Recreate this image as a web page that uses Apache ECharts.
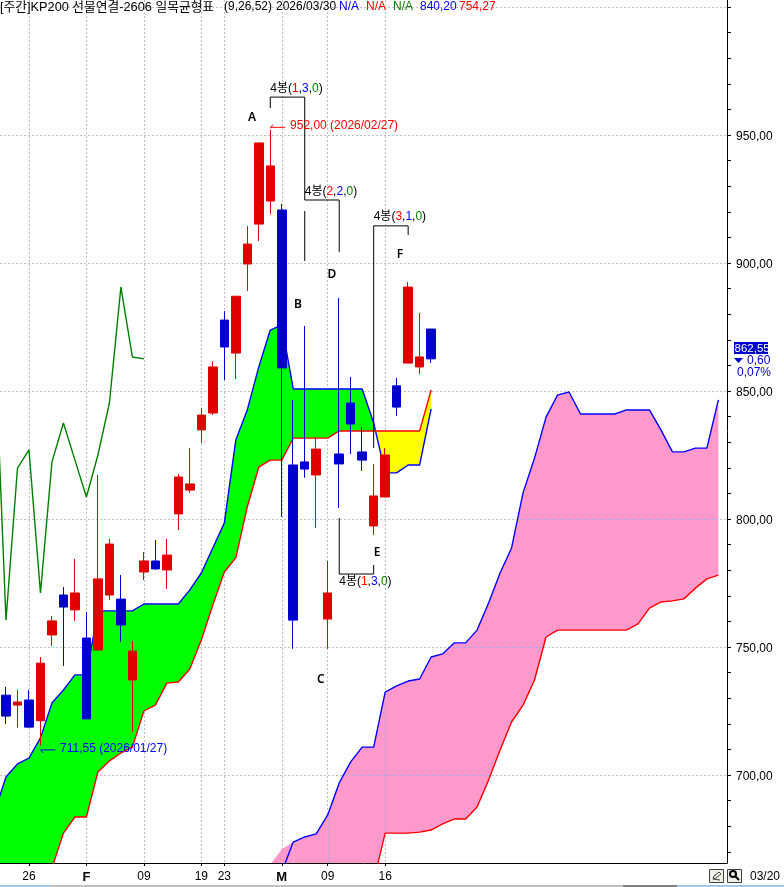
<!DOCTYPE html>
<html>
<head>
<meta charset="utf-8">
<title>KP200</title>
<style>
  html, body { margin: 0; padding: 0; background: #fff; }
  #chart { width: 784px; height: 887px; }
</style>
<script src="https://cdn.jsdelivr.net/npm/echarts@6/dist/echarts.min.js"></script>
</head>
<body>
<div id="chart"></div>
<script>
// weekly candles, index 0 = first bar on the left
const candleOpen  = [731.2,727.3,729.3,721.2,754.7,770.3,764.5,753.5,748.8,770.3,768.7,737.1,779.3,783.6,780.1,802.0,811.3,834.8,841.4,877.7,864.8,899.6,915.2,924.2,920.7,821.1,822.3,817.2,760.9,825.4,845.3,826.2,797.3,808.6,852.0,860.9,859.4,874.2]
const candleClose = [723.0,728.5,718.7,743.7,760.2,765.6,771.1,721.9,776.6,790.2,758.6,748.4,783.6,780.5,785.9,816.4,813.7,840.6,859.4,867.2,887.0,907.4,946.9,937.9,859.0,760.5,819.5,827.3,771.1,821.5,837.1,823.0,809.0,825.0,843.7,890.6,863.3,862.55]
const candleLow   = [719.9,718.5,718.7,711.55,750.4,742.6,760.2,721.9,748.8,768.4,752.0,716.8,776.2,780.1,772.7,795.7,810.2,829.7,840.6,854.3,854.7,889.1,908.6,919.1,800.8,749.3,816.1,796.5,749.3,804.3,825.4,818.8,793.8,808.6,840.2,860.9,856.6,860.9]
const candleHigh  = [734.4,733.2,733.2,746.1,762.1,773.4,784.4,763.7,817.2,792.2,778.1,752.3,787.1,791.8,792.2,817.6,827.7,843.4,861.7,881.2,887.2,914.5,946.9,952.0,923.0,846.5,875.4,832.0,783.6,886.3,855.5,835.9,821.5,827.7,855.1,892.6,880.5,874.2]

// chikou line, starts one slot left of the first candle
const laggingStart = -1
const lagging = [871.9,760.5,819.9,827.0,771.1,822.3,837.5,823.0,808.6,825.0,845.3,890.6,863.3,862.55]

// near cloud, starts one slot left of the first candle
const nearStart = -1
const nearSpanA = [685.5,699.2,704.3,706.6,714.5,728.1,733.2,739.1,739.1,764.1,764.1,764.1,764.1,766.8,766.8,766.8,766.8,772.3,778.9,788.7,798.4,830.9,842.6,859.4,873.8,875.8,850.8,850.8,850.8,850.8,850.8,850.8,850.8,837.5,818.0,818.0,821.1,821.1,843.0]
const nearSpanB = [621.9,627.7,633.6,641.4,649.2,663.7,677.3,683.6,683.6,701.2,705.5,708.6,710.9,725.0,727.3,735.9,736.3,741.4,752.7,766.4,779.3,784.8,804.7,820.3,823.0,823.0,831.6,831.6,831.6,831.6,834.4,834.4,834.4,834.4,834.4,834.4,834.4,834.4,850.4]

// far cloud
const farStart = 25
const farSpanA = [673.8,675.8,677.0,684.4,696.9,705.1,710.9,710.9,732.4,734.8,736.7,737.5,746.1,747.3,751.6,751.6,756.6,767.2,778.9,788.7,810.2,823.8,839.8,848.4,849.6,841.0,841.0,841.0,841.0,842.6,842.6,842.6,834.8,826.2,826.2,827.7,827.7,846.5]
const farSpanB = [655.0,655.0,655.0,655.0,655.0,655.0,655.0,658.6,677.3,677.3,677.3,677.7,678.5,680.9,682.8,682.8,687.5,698.0,709.8,720.7,727.3,737.1,753.9,756.6,756.6,756.6,756.6,756.6,756.6,756.6,759.0,765.2,767.6,768.0,768.8,773.0,776.6,778.1]
// blue line comes up from below the chart one slot earlier
const farLeadIn = 662.1
// pale wedge left of the far cloud's blue line
const farTailStart = 23
const farTailTop = [665.0,671.0,673.8]
const farTailBottom = [655.0,655.0,655.0]

const xTickIndex = [2,7,12,17,19,24,28,33]
const xTickLabels = ['26','F','09','19','23','M','09','16']
const yLabelValues = [700,750,800,850,900,950]
const yGridValues = [700,750,800,850,900,950,1000]
const yTickValues = [670,680,690,700,710,720,730,740,750,760,770,780,790,800,810,820,830,840,850,860,870,880,890,900,910,920,930,940,950,960,970,980,990,1000]

const bracketLines = [
  [[23,960.5],[23,964.8],[26,964.8],[26,924.6]],
  [[26,920.3],[26,900.8]],
  [[26,924.6],[29,924.6],[29,904.3]],
  [[32,827.7],[32,914.5],[35,914.5],[35,910.9]],
  [[29,800.4],[29,778.5],[32,778.5],[32,782.0]],
]
const bracketNotes = [
  [23,968.4,'4봉({r|1},{b|3},{g|0})'],
  [26,928.1,'4봉({r|2},{b|2},{g|0})'],
  [32,918.4,'4봉({r|3},{b|1},{g|0})'],
  [29,775.8,'4봉({r|1},{b|3},{g|0})'],
]
const waveLetters = [
  [21.41,957.0,'A'],[25.41,884.0,'B'],[27.41,737.5,'C'],
  [28.37,895.7,'D'],[32.29,787.1,'E'],[34.29,903.5,'F'],
]
const highNote = [24.72,953.9,'952,00 (2026/02/27)']
const lowNote = [4.7,710.5,'711,55 (2026/01/27)']
const highArrow = [[23.25,954.0],[23,953.0],[24.3,953.0]]
const lowArrow = [[3.25,708.6],[3,709.8],[4.3,709.8]]

const headerTitle = '[주간]KP200 선물연결-2606 일목균형표'
const headerTexts = [
  [224,'(9,26,52)','#000'],
  [276,'2026/03/30','#000'],
  [339,'N/A','#0000ff'],
  [366,'N/A','#ff0000'],
  [393,'N/A','#008000'],
  [420,'840,20','#0000ff'],
  [459,'754,27','#ff0000'],
]

const FONT = '12px "Liberation Sans", "Noto Sans CJK KR", sans-serif'
const RED = '#e00000', BLUE = '#0000cc'
const PINK = '#ff99cc'

const chart = echarts.init(document.getElementById('chart'), null, { renderer: 'canvas' })

// split the band between two lines into polygons, one per stretch of same sign
const bandPolygons = (start, upper, lower, colorUp, colorDown) => {
  const polys = []
  let cur = null
  const push = (i, a, b, color) => {
    if (!cur || cur.color !== color) {
      cur = { color, top: [], bottom: [] }
      polys.push(cur)
    }
    cur.top.push([i, a])
    cur.bottom.push([i, b])
  }
  upper.forEach((a, k) => {
    const b = lower[k]
    const i = start + k
    const color = a >= b ? colorUp : colorDown
    if (cur && cur.color !== color) {
      const pa = upper[k - 1], pb = lower[k - 1]
      const t = (pb - pa) / (a - pa - b + pb)
      const cx = i - 1 + t
      const cy = pa + (a - pa) * t
      push(cx, cy, cy, cur.color)
      push(cx, cy, cy, color)
    }
    push(i, a, b, color)
  })
  return polys.map((p) => ({ color: p.color, pts: p.top.concat(p.bottom.slice().reverse()) }))
}

const farPoly = bandPolygons(farStart, farSpanA, farSpanB, PINK, PINK)[0]
const cloudPolys = [
  ...bandPolygons(nearStart, nearSpanA, nearSpanB, '#00ff00', '#ffff00'),
  farPoly,
  ...bandPolygons(farTailStart, farTailTop, farTailBottom, PINK, PINK),
]

const toLine = (start, arr) => arr.map((v, k) => [start + k, v])

const lineSeries = (name, data, color) => ({
  type: 'line', name, data, symbol: 'none', z: 3, silent: true,
  lineStyle: { color, width: 1.4 }, emphasis: { disabled: true },
})

const customLines = (segments, color, z) => ({
  type: 'custom', coordinateSystem: 'cartesian2d', silent: true, z, clip: true,
  data: segments.map((_, k) => [k]),
  encode: { x: -1, y: -1 },
  renderItem: (params, api) => ({
    type: 'polyline',
    shape: { points: segments[params.dataIndex].map((p) => api.coord(p)) },
    style: { stroke: color, lineWidth: 1, fill: null },
  }),
})

const customTexts = (items, style, z) => ({
  type: 'custom', coordinateSystem: 'cartesian2d', silent: true, z,
  data: items.map((_, k) => [k]),
  encode: { x: -1, y: -1 },
  renderItem: (params, api) => {
    const it = items[params.dataIndex]
    const p = api.coord([it[0], it[1]])
    return { type: 'text', x: p[0], y: p[1] + 1, style: { text: it[2], verticalAlign: 'middle', ...style } }
  },
})

const option = {
  animation: false,
  backgroundColor: '#fff',
  grid: { left: 0, right: 57, top: 0, bottom: 24 },
  xAxis: {
    type: 'value', min: -0.522, max: 62.75,
    axisLine: { onZero: false, lineStyle: { color: '#000', width: 1 } },
    axisTick: { customValues: xTickIndex, length: 3, lineStyle: { color: '#000' } },
    splitLine: { show: true, lineStyle: { color: '#c0c0c0', type: [2, 2] } },
    axisLabel: {
      customValues: xTickIndex, margin: 8, color: '#000', font: FONT,
      formatter: (v) => {
        const s = xTickLabels[xTickIndex.indexOf(v)]
        return s === 'F' || s === 'M' ? '{bold|' + s + '}' : s
      },
      rich: { bold: { fontWeight: 'bold', fontSize: 13, fontFamily: 'Liberation Sans', color: '#000' } },
    },
  },
  yAxis: [
    {
      type: 'value', position: 'right', min: 665.625, max: 1002.73,
      axisLine: { show: true, onZero: false, lineStyle: { color: '#000', width: 1 } },
      axisTick: { show: true, customValues: yTickValues, length: 4, lineStyle: { color: '#000' } },
      splitLine: { show: false },
      axisLabel: {
        customValues: yLabelValues, margin: 9, color: '#000',
        formatter: (v) => '{v|' + v.toFixed(2).replace('.', ',') + '}',
        rich: { v: { fontSize: 12, fontFamily: 'Liberation Sans', color: '#000', padding: [4, 0, 0, 0] } },
      },
    },
    {
      type: 'value', position: 'right', min: 665.625, max: 1002.73,
      axisLine: { show: false },
      axisTick: { show: false, customValues: yGridValues },
      axisLabel: { show: false },
      splitLine: { show: true, lineStyle: { color: '#c0c0c0', type: [2, 2] } },
    },
  ],
  series: [
    {
      type: 'custom', name: 'cloud', coordinateSystem: 'cartesian2d', silent: true, z: 1, clip: true,
      data: cloudPolys.map((_, k) => [k]),
      encode: { x: -1, y: -1 },
      renderItem: (params, api) => {
        const p = cloudPolys[params.dataIndex]
        return {
          type: 'polygon',
          shape: { points: p.pts.map((pt) => api.coord(pt)) },
          style: { fill: p.color },
        }
      },
    },
    {
      // grid shows through the pink cloud as pale blue dashes
      type: 'custom', name: 'farGrid', coordinateSystem: 'cartesian2d', silent: true, z: 2, clip: true,
      data: [[0]],
      encode: { x: -1, y: -1 },
      renderItem: (params, api) => {
        const dash = { stroke: '#a8a8e8', lineWidth: 1, lineDash: [2, 2] }
        const hLines = yGridValues.map((v) => {
          const a = api.coord([-0.522, v]), b = api.coord([62.75, v])
          return { type: 'line', shape: { x1: a[0], y1: Math.round(a[1]) + 0.5, x2: b[0], y2: Math.round(b[1]) + 0.5 }, style: dash }
        })
        const vLines = xTickIndex.map((i) => {
          const a = api.coord([i, 665.625]), b = api.coord([i, 1002.73])
          return { type: 'line', shape: { x1: Math.round(a[0]) + 0.5, y1: a[1], x2: Math.round(b[0]) + 0.5, y2: b[1] }, style: dash }
        })
        return {
          type: 'group',
          clipPath: { type: 'polygon', shape: { points: farPoly.pts.map((pt) => api.coord(pt)) } },
          children: hLines.concat(vLines),
        }
      },
    },
    lineSeries('nearA', toLine(nearStart, nearSpanA), '#0000ff'),
    lineSeries('nearB', toLine(nearStart, nearSpanB), '#ff0000'),
    lineSeries('farA', toLine(farStart - 1, [farLeadIn, ...farSpanA]), '#0000ff'),
    lineSeries('farB', toLine(farStart, farSpanB).slice(7), '#ff0000'),
    lineSeries('lagging', toLine(laggingStart, lagging), '#008000'),
    {
      type: 'candlestick', name: 'candles', z: 5, silent: true, barWidth: 9,
      data: candleOpen.map((o, i) => [i, o, candleClose[i], candleLow[i], candleHigh[i]]),
      encode: { x: 0, y: [1, 2, 3, 4] },
      itemStyle: { color: RED, color0: BLUE, borderColor: RED, borderColor0: BLUE, borderWidth: 1 },
    },
    customLines(bracketLines, '#000', 6),
    customLines([highArrow], '#ff0000', 6),
    customLines([lowArrow], '#0000ff', 6),
    customTexts(bracketNotes, {
      font: FONT, fill: '#000',
      rich: { r: { fill: '#ff0000', font: FONT }, b: { fill: '#0000ff', font: FONT }, g: { fill: '#008000', font: FONT } },
    }, 7),
    customTexts(waveLetters, { font: '600 12px "Noto Sans", sans-serif', fill: '#000', align: 'center' }, 7),
    customTexts([highNote], { font: FONT, fill: '#ff0000' }, 7),
    customTexts([lowNote], { font: FONT, fill: '#0000ff' }, 7),
  ],
  graphic: [
    {
      type: 'text', x: 0, y: 7, z: 20,
      style: { text: headerTitle, fill: '#000', font: '12.75px "Liberation Sans", "Noto Sans CJK KR", sans-serif', verticalAlign: 'middle' },
    },
    ...headerTexts.map(([x, text, fill]) => ({
      type: 'text', x, y: 7, z: 20,
      style: { text, fill, font: FONT, verticalAlign: 'middle' },
    })),
    // last price box on the right
    { type: 'rect', shape: { x: 734, y: 342, width: 34, height: 12 }, style: { fill: BLUE } },
    { type: 'text', x: 734.5, y: 349, style: { text: '862,55', fill: '#fff', font: '11.5px "Liberation Sans", sans-serif', verticalAlign: 'middle' } },
    { type: 'polygon', shape: { points: [[734, 358], [743, 358], [738.5, 363]] }, style: { fill: BLUE } },
    { type: 'text', x: 747, y: 361, style: { text: '0,60', fill: BLUE, font: FONT, verticalAlign: 'middle' } },
    { type: 'text', x: 737, y: 373, style: { text: '0,07%', fill: BLUE, font: FONT, verticalAlign: 'middle' } },
    // toolbar bits bottom right
    { type: 'rect', shape: { x: 709.5, y: 869.5, width: 14, height: 13 }, style: { fill: '#f0f0e8', stroke: '#404040', lineWidth: 1 } },
    { type: 'polyline', shape: { points: [[713, 879], [714, 876], [719, 872], [721, 874], [716, 878], [713, 879], [720, 880]] }, style: { fill: null, stroke: '#404040', lineWidth: 1 } },
    { type: 'rect', shape: { x: 727.5, y: 869.5, width: 14, height: 13 }, style: { fill: '#f0f0e8', stroke: '#404040', lineWidth: 1 } },
    { type: 'circle', shape: { cx: 733, cy: 874, r: 3 }, style: { fill: '#f0f0e8', stroke: '#000', lineWidth: 2 } },
    { type: 'line', shape: { x1: 735, y1: 876, x2: 739, y2: 880 }, style: { stroke: '#000', lineWidth: 2 } },
    { type: 'text', x: 750, y: 877, style: { text: '03/20', fill: '#000', font: FONT, verticalAlign: 'middle' } },
    // scrollbar strip along the bottom edge
    { type: 'rect', shape: { x: 0, y: 885, width: 784, height: 2 }, style: { fill: '#a6c8e8' } },
    { type: 'rect', shape: { x: 50, y: 885, width: 573, height: 2 }, style: { fill: '#c0c0c0' } },
    { type: 'rect', shape: { x: 623, y: 885, width: 54, height: 2 }, style: { fill: '#808080' } },
  ],
}

chart.setOption(option)
</script>
</body>
</html>
